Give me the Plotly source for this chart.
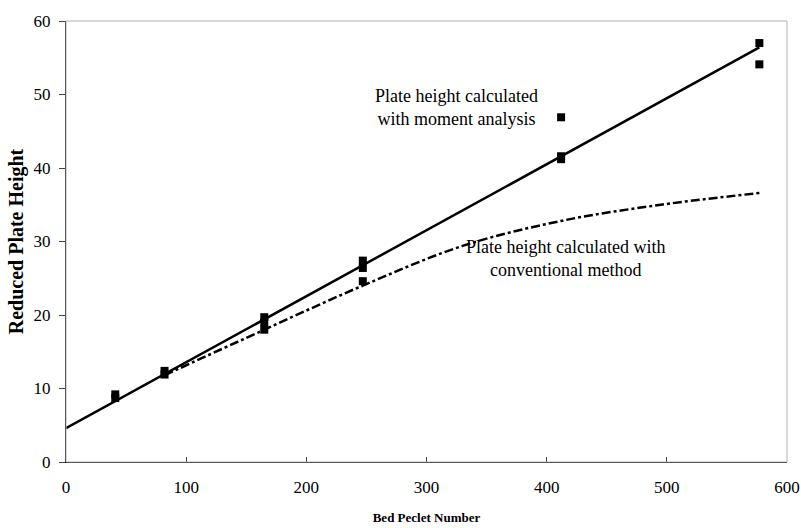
import plotly.graph_objects as go

# Measured data (bed Peclet number vs reduced plate height)
pe_points = [41, 41, 82, 82, 165, 165, 165, 247, 247, 247, 412, 412, 412, 577, 577]
h_points = [8.7, 9.2, 11.9, 12.4, 19.7, 19.0, 18.0, 27.4, 26.4, 24.6, 46.9, 41.6, 41.2, 57.0, 54.1]

# Moment analysis linear fit
pe_fit = [0, 577]
h_fit = [4.6, 56.4]

# Conventional method curve
pe_conv = [82, 165, 247, 330, 412, 495, 577]
h_conv = [11.8, 18.0, 24.0, 29.4, 32.8, 35.0, 36.6]

x_ticks = [0, 100, 200, 300, 400, 500, 600]
y_ticks = [0, 10, 20, 30, 40, 50, 60]

font_family = "Liberation Serif, Times New Roman, serif"

fig = go.Figure()
fig.add_trace(go.Scatter(x=pe_fit, y=h_fit, mode="lines",
                         line=dict(color="black", width=2.5), showlegend=False))
fig.add_trace(go.Scatter(x=pe_conv, y=h_conv, mode="lines",
                         line=dict(color="black", width=2.5, dash="dashdot", shape="spline"),
                         showlegend=False))
fig.add_trace(go.Scatter(x=pe_points, y=h_points, mode="markers",
                         marker=dict(symbol="square", color="black", size=8),
                         showlegend=False))

fig.add_annotation(x=325, y=48.3, text="Plate height calculated<br>with moment analysis",
                   showarrow=False, font=dict(family=font_family, size=18, color="black"),
                   align="center")
fig.add_annotation(x=416, y=27.7, text="Plate height calculated with<br>conventional method",
                   showarrow=False, font=dict(family=font_family, size=18, color="black"),
                   align="center")

fig.update_layout(
    width=801, height=528,
    margin=dict(l=66, r=14, t=21, b=66),
    paper_bgcolor="white", plot_bgcolor="white",
    font=dict(family=font_family, size=16, color="black"),
    shapes=[dict(type="rect", xref="paper", yref="paper", x0=0, y0=0, x1=1, y1=1,
                 line=dict(color="#b0b0b0", width=1))],
)
fig.update_xaxes(range=[0, 600], tickvals=x_ticks, ticks="inside", ticklen=5,
                 showgrid=False, zeroline=False, showline=True, linecolor="black",
                 linewidth=1, tickfont=dict(size=17), ticklabelstandoff=10, automargin=False,
                 title=dict(text="<b>Bed Peclet Number</b>", font=dict(size=13), standoff=16))
fig.update_yaxes(range=[0, 60], tickvals=y_ticks, ticks="outside", ticklen=6,
                 showgrid=False, zeroline=False, showline=True, linecolor="black",
                 linewidth=1, tickfont=dict(size=17), ticklabelstandoff=5, automargin=False,
                 title=dict(text="<b>Reduced Plate Height</b>", font=dict(size=20), standoff=4))

fig.write_html("out.html")
